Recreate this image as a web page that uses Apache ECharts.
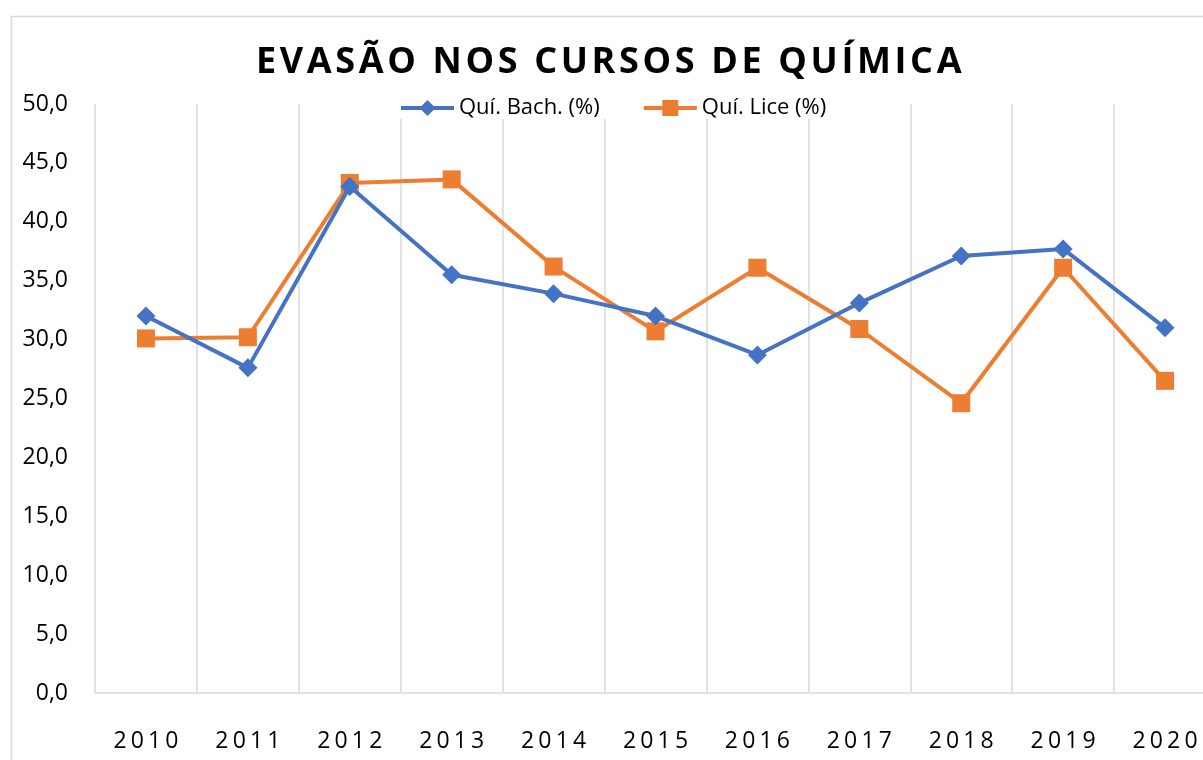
<!DOCTYPE html>
<html>
<head>
<meta charset="utf-8">
<script src="https://cdn.jsdelivr.net/npm/echarts@6/dist/echarts.min.js"></script>
<style>
  html, body { margin: 0; padding: 0; background: #fff; }
  #chart { width: 1203px; height: 760px; }
</style>
</head>
<body>
<div id="chart"></div>
<script>
// Dropout rates (%) for the chemistry programmes, per year
const years = ['2010', '2011', '2012', '2013', '2014', '2015', '2016', '2017', '2018', '2019', '2020'];
const bachelor = [32.0, 27.6, 43.0, 35.5, 33.9, 32.0, 28.7, 33.1, 37.1, 37.7, 31.0];
const licentiate = [30.1, 30.2, 43.3, 43.6, 36.2, 30.7, 36.1, 30.9, 24.6, 36.1, 26.5];
const seriesNames = ['Quí. Bach. (%)', 'Quí. Lice (%)'];
const titleText = 'EVASÃO NOS CURSOS DE QUÍMICA';

const FONT = '"Open Sans", "Liberation Sans", sans-serif';
const GRID_COLOR = '#d9d9d9';

// Letter-spaced text: each glyph in style `a`, separated by a narrow gap in style `g`
function spaced(str, a, g) {
  return str.split('').map(c => '{' + a + '|' + c + '}').join('{' + g + '| }');
}

const chart = echarts.init(document.getElementById('chart'), null, { renderer: 'canvas' });

chart.setOption({
  backgroundColor: '#fff',
  animation: false,
  title: {
    text: spaced(titleText, 't', 'g'),
    left: 251,
    top: 40,
    textStyle: {
      rich: {
        t: { fontFamily: FONT, fontWeight: 'bold', fontSize: 36, color: '#000' },
        g: { fontFamily: FONT, fontSize: 14, color: '#000' }
      }
    }
  },
  legend: {
    left: 399,
    top: 97,
    padding: 0,
    itemGap: 42,
    itemWidth: 53,
    itemHeight: 20,
    backgroundColor: '#fff',
    textStyle: { fontFamily: FONT, fontSize: 22, color: '#000' },
    lineStyle: { width: 4 },
    data: seriesNames
  },
  grid: { left: 95, top: 104, width: 1121, bottom: 67, outerBoundsMode: 'none', containLabel: false },
  xAxis: {
    type: 'category',
    data: years,
    boundaryGap: true,
    axisLine: { lineStyle: { color: GRID_COLOR, width: 1.5 } },
    axisTick: { show: false },
    splitLine: { show: true, interval: 0, lineStyle: { color: GRID_COLOR, width: 1.5 } },
    axisLabel: {
      interval: 0,
      margin: 37,
      formatter: v => spaced(v, 'd', 'g'),
      rich: {
        d: { fontFamily: FONT, fontSize: 23, color: '#000' },
        g: { fontFamily: FONT, fontSize: 16, color: '#000' }
      }
    }
  },
  yAxis: {
    type: 'value',
    min: 0,
    max: 50,
    interval: 5,
    axisLine: { show: false },
    axisTick: { show: false },
    splitLine: { show: false },
    axisLabel: {
      margin: 27,
      fontFamily: FONT,
      fontSize: 23,
      color: '#000',
      formatter: v => v.toFixed(1).replace('.', ',')
    }
  },
  series: [
    {
      name: seriesNames[0],
      type: 'line',
      data: bachelor,
      symbol: 'diamond',
      symbolSize: 19,
      lineStyle: { color: '#4472C4', width: 4 },
      itemStyle: { color: '#4472C4' },
      z: 3
    },
    {
      name: seriesNames[1],
      type: 'line',
      data: licentiate,
      symbol: 'rect',
      symbolSize: 18,
      lineStyle: { color: '#ED7D31', width: 4 },
      itemStyle: { color: '#ED7D31' },
      z: 2
    }
  ],
  graphic: [
    {
      type: 'rect',
      left: 9,
      top: 14,
      silent: true,
      shape: { width: 1400, height: 1000 },
      style: { fill: 'none', stroke: GRID_COLOR, lineWidth: 1.5 }
    }
  ]
});
</script>
</body>
</html>
